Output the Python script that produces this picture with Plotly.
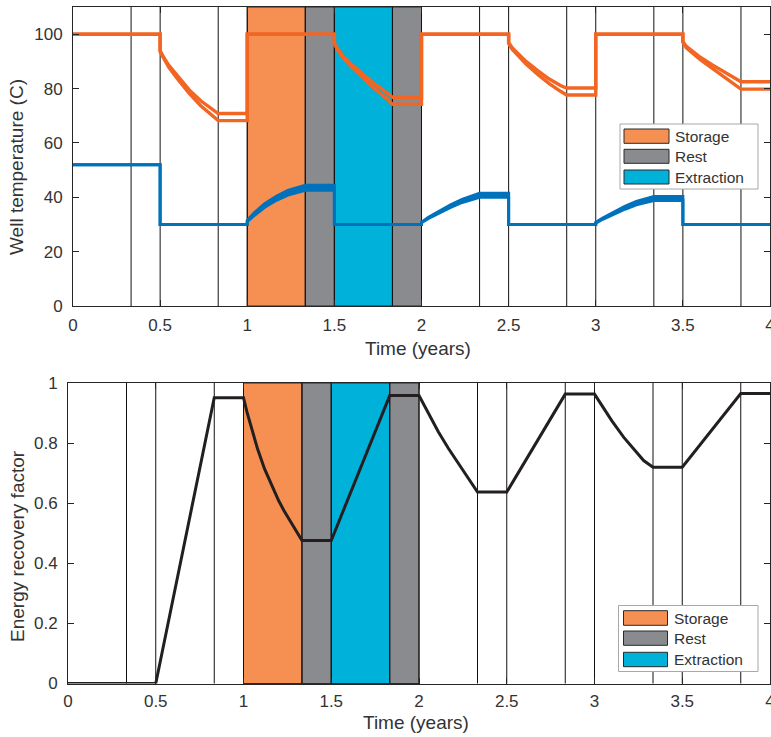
import plotly.graph_objects as go

# ---------------- data ----------------
# Phase boundaries (years) for the four annual phases
phase_names = ["Storage", "Rest", "Extraction", "Rest"]
phase_start = [1.0, 4 / 3, 1.5, 11 / 6]
phase_end = [4 / 3, 1.5, 11 / 6, 2.0]
legend_names = ["Storage", "Rest", "Extraction"]
phase_colors = {"Storage": "#F58F52", "Rest": "#8A8B8F", "Extraction": "#00B1DA"}

# Vertical guide lines at every phase change
phase_changes = [1 / 3, 0.5, 5 / 6, 1.0, 4 / 3, 1.5, 11 / 6, 2.0,
                 7 / 3, 2.5, 17 / 6, 3.0, 10 / 3, 3.5, 23 / 6]

# Hot well temperature (two monitored curves)
hot_time = [0, 0.5, 0.5, 0.52, 0.55, 0.6, 0.667, 0.733, 0.8, 0.8333,
            1.0, 1.0,
            1.5, 1.5, 1.52, 1.55, 1.6, 1.667, 1.733, 1.8, 1.8333,
            2.0, 2.0,
            2.5, 2.5, 2.52, 2.55, 2.6, 2.667, 2.733, 2.8, 2.8333,
            3.0, 3.0,
            3.5, 3.5, 3.52, 3.55, 3.6, 3.667, 3.733, 3.8, 3.8333,
            4.0]
hot_upper = [100, 100, 94.0, 91.5, 88.5, 84.5, 79.5, 75.5, 72.3, 70.8,
             70.8, 100,
             100, 96.8, 94.5, 92.0, 88.8, 85.2, 81.6, 78.5, 76.8,
             76.8, 100,
             100, 97.0, 95.0, 93.0, 90.0, 86.6, 83.5, 81.0, 80.2,
             80.2, 100,
             100, 97.3, 95.5, 94.0, 91.5, 88.8, 86.2, 83.8, 82.5,
             82.5]
hot_lower = [100, 100, 93.5, 91.0, 87.8, 83.5, 78.2, 73.7, 70.0, 68.2,
             68.2, 100,
             100, 96.5, 94.0, 91.3, 87.8, 83.8, 79.8, 76.3, 74.2,
             74.2, 100,
             100, 96.6, 94.5, 92.3, 89.0, 85.2, 81.8, 78.9, 77.6,
             77.6, 100,
             100, 97.0, 95.0, 93.3, 90.6, 87.5, 84.4, 81.4, 79.8,
             79.8]

# Cold well temperature (upper and lower edge of the monitored band)
cold_time = [0, 0.5, 0.5,
             1.0, 1.0, 1.04, 1.1, 1.167, 1.233, 1.3, 1.3333,
             1.5, 1.5,
             2.0, 2.0, 2.04, 2.1, 2.167, 2.233, 2.3, 2.3333,
             2.5, 2.5,
             3.0, 3.0, 3.04, 3.1, 3.167, 3.233, 3.3, 3.3333,
             3.5, 3.5,
             4.0]
cold_upper = [52, 52, 30,
              30, 31.5, 34.3, 37.6, 40.4, 42.5, 43.8, 44.4,
              44.4, 30,
              30, 30.8, 32.6, 34.8, 37.2, 39.2, 40.8, 41.5,
              41.5, 30,
              30, 30.8, 32.4, 34.5, 36.7, 38.5, 39.8, 40.3,
              40.3, 30,
              30]
cold_lower = [52, 52, 30,
              30, 31.0, 33.3, 36.3, 38.9, 40.8, 42.1, 42.6,
              42.6, 30,
              30, 30.6, 32.2, 34.2, 36.3, 38.1, 39.5, 40.0,
              40.0, 30,
              30, 30.5, 31.9, 33.7, 35.6, 37.2, 38.4, 38.8,
              38.8, 30,
              30]

# Energy recovery factor
erf_time = [0, 0.5, 0.8333,
            1.0, 1.02, 1.04, 1.06, 1.08, 1.12, 1.17, 1.2, 1.23, 1.28, 1.3333,
            1.5, 1.8333,
            2.0, 2.05, 2.11, 2.167, 2.224, 2.281, 2.3333,
            2.5, 2.8333,
            3.0, 3.05, 3.1, 3.167, 3.233, 3.28, 3.3333,
            3.5, 3.8333, 4.0]
erf_value = [0, 0, 0.951,
             0.951, 0.903, 0.860, 0.818, 0.781, 0.714, 0.645, 0.609, 0.576,
             0.526, 0.476,
             0.476, 0.958,
             0.958, 0.902, 0.838, 0.783, 0.733, 0.684, 0.637,
             0.637, 0.963,
             0.963, 0.917, 0.873, 0.819, 0.772, 0.742, 0.720,
             0.720, 0.965, 0.965]

x_ticks = [0, 0.5, 1, 1.5, 2, 2.5, 3, 3.5, 4]
x_tick_text = ["0", "0.5", "1", "1.5", "2", "2.5", "3", "3.5", "4"]
temp_ticks = [0, 20, 40, 60, 80, 100]
erf_ticks = [0, 0.2, 0.4, 0.6, 0.8, 1]
erf_tick_text = ["0", "0.2", "0.4", "0.6", "0.8", "1"]

# ---------------- styling ----------------
W, H = 771, 737
FONT = "Liberation Sans, Arial, Helvetica, sans-serif"
TXT = "#333333"
AX = "#262626"
HOT = "#F26522"
COLD = "#0072BC"
ERF = "#231F20"


def px(x):
    return x / W


def py(y):
    return 1 - y / H


fig = go.Figure()

# Temperature curves
for vals in (hot_upper, hot_lower):
    fig.add_trace(go.Scatter(x=hot_time, y=vals, mode="lines",
                             line=dict(color=HOT, width=3.4),
                             xaxis="x", yaxis="y", showlegend=False,
                             hoverinfo="skip"))
fig.add_trace(go.Scatter(x=cold_time, y=cold_upper, mode="lines",
                         line=dict(color=COLD, width=3),
                         xaxis="x", yaxis="y", showlegend=False,
                         hoverinfo="skip"))
fig.add_trace(go.Scatter(x=cold_time, y=cold_lower, mode="lines",
                         line=dict(color=COLD, width=3),
                         fill="tonexty", fillcolor=COLD,
                         xaxis="x", yaxis="y", showlegend=False,
                         hoverinfo="skip"))

# Energy recovery factor
fig.add_trace(go.Scatter(x=erf_time, y=erf_value, mode="lines",
                         line=dict(color=ERF, width=3),
                         xaxis="x2", yaxis="y2", showlegend=False,
                         hoverinfo="skip"))

shapes = []
for xr, yr in (("x", "y"), ("x2", "y2")):
    # Shaded phases of the second year
    for name, s, e in zip(phase_names, phase_start, phase_end):
        shapes.append(dict(type="rect", xref=xr, yref=yr + " domain",
                           x0=s, x1=e, y0=0, y1=1, layer="below",
                           fillcolor=phase_colors[name],
                           line=dict(color="#2a2a2a", width=1)))
    # Phase-change guide lines
    for t in phase_changes:
        shapes.append(dict(type="line", xref=xr, yref=yr + " domain",
                           x0=t, x1=t, y0=0, y1=1, layer="below",
                           line=dict(color="#111111", width=1)))

annotations = []

# Legend boxes drawn in page coordinates
legend_boxes = [
    dict(box=(620, 124, 758, 189), icon_x=(624, 669),
         rows=[(129, 143.3), (149.3, 163.3), (170, 184)], text_x=672.5),
    dict(box=(618.5, 605.5, 758, 671.5), icon_x=(623.5, 667.5),
         rows=[(610.7, 625.3), (631, 645.3), (652.3, 666.7)], text_x=671.5),
]
for lb in legend_boxes:
    x0, y0, x1, y1 = lb["box"]
    shapes.append(dict(type="rect", xref="paper", yref="paper",
                       x0=px(x0), x1=px(x1), y0=py(y1), y1=py(y0),
                       fillcolor="white", line=dict(color="#a8a8a8", width=1),
                       layer="above"))
    for name, (r0, r1) in zip(legend_names, lb["rows"]):
        shapes.append(dict(type="rect", xref="paper", yref="paper",
                           x0=px(lb["icon_x"][0]), x1=px(lb["icon_x"][1]),
                           y0=py(r1), y1=py(r0),
                           fillcolor=phase_colors[name],
                           line=dict(color="#2a2a2a", width=1), layer="above"))
        annotations.append(dict(text=name, xref="paper", yref="paper",
                                x=px(lb["text_x"]), y=py((r0 + r1) / 2),
                                xanchor="left", yanchor="middle",
                                showarrow=False,
                                font=dict(family=FONT, size=15.5, color=TXT)))

# Axis titles
title_font = dict(family=FONT, size=19, color=TXT)
annotations += [
    dict(text="Time (years)", xref="paper", yref="paper",
         x=px(418), y=py(349), xanchor="center", yanchor="middle",
         showarrow=False, font=title_font),
    dict(text="Time (years)", xref="paper", yref="paper",
         x=px(416), y=py(722), xanchor="center", yanchor="middle",
         showarrow=False, font=title_font),
    dict(text="Well temperature (C)", xref="paper", yref="paper",
         x=px(17), y=py(167), xanchor="center", yanchor="middle",
         textangle=-90, showarrow=False, font=title_font),
    dict(text="Energy recovery factor", xref="paper", yref="paper",
         x=px(17), y=py(546), xanchor="center", yanchor="middle",
         textangle=-90, showarrow=False, font=title_font),
]

axis_common = dict(showline=True, linecolor=AX, linewidth=1, mirror="ticks",
                   ticks="inside", ticklen=6, tickcolor=AX, tickwidth=1,
                   showgrid=False, zeroline=False, automargin=False,
                   ticklabeloverflow="allow",
                   tickfont=dict(family=FONT, size=17, color=TXT))

fig.update_layout(
    width=W, height=H,
    margin=dict(l=0, r=0, t=0, b=0),
    paper_bgcolor="white", plot_bgcolor="white",
    showlegend=False,
    xaxis=dict(domain=[px(73), px(770)], range=[0, 4], anchor="y",
               tickvals=x_ticks, ticktext=x_tick_text,
               ticklabelstandoff=4, **axis_common),
    yaxis=dict(domain=[py(306), py(7)], range=[0, 110], anchor="x",
               tickvals=temp_ticks, ticklabelstandoff=6, **axis_common),
    xaxis2=dict(domain=[px(68), px(770)], range=[0, 4], anchor="y2",
                tickvals=x_ticks, ticktext=x_tick_text,
                ticklabelstandoff=2, **axis_common),
    yaxis2=dict(domain=[py(683.5), py(383)], range=[0, 1], anchor="x2",
                tickvals=erf_ticks, ticktext=erf_tick_text,
                ticklabelstandoff=6, **axis_common),
    shapes=shapes,
    annotations=annotations,
)

fig.write_html("out.html")
